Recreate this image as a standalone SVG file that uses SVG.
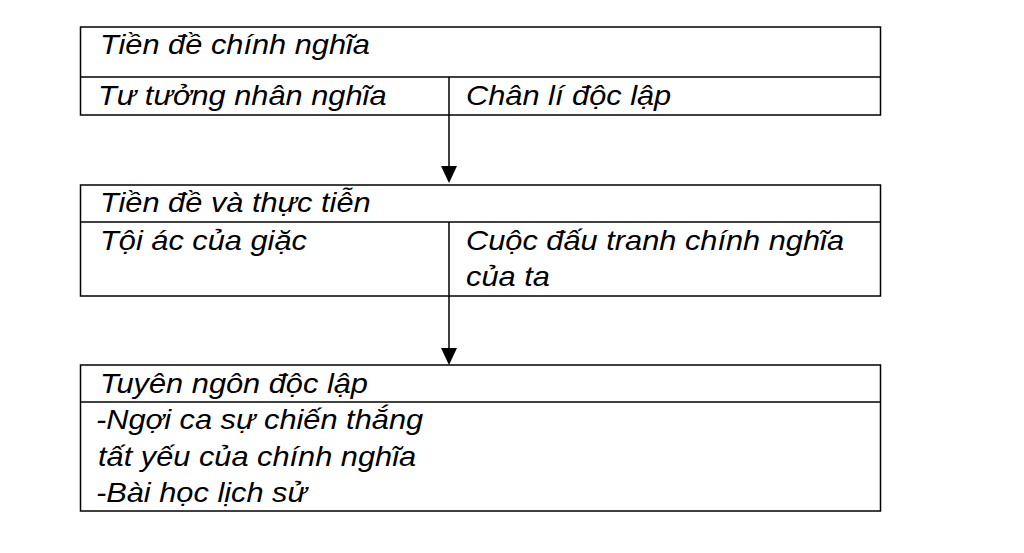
<svg xmlns="http://www.w3.org/2000/svg" width="1024" height="553" viewBox="0 0 1024 553">
<style>
.box{fill:#fff;stroke:#000;stroke-width:1.5}
.ln{stroke:#000;stroke-width:1.5;fill:none}
.head{fill:#000}
.t{font-family:"Liberation Sans",Arial,sans-serif;font-style:italic;font-size:27px;fill:#000}
</style>
<rect width="1024" height="553" fill="#fff"/>
<g id="connectors">
<line class="ln" x1="449" y1="115" x2="449" y2="168"/>
<path class="head" d="M441,166 L457,166 L449,183 Z"/>
<line class="ln" x1="449" y1="296" x2="449" y2="350"/>
<path class="head" d="M441,348 L457,348 L449,365 Z"/>
</g>
<g id="node1">
<rect class="box" x="80.5" y="27" width="800" height="88"/>
<line class="ln" x1="80.5" y1="77" x2="880.5" y2="77"/>
<line class="ln" x1="449" y1="77" x2="449" y2="115"/>
<text class="t" transform="matrix(1.14 0 0 1 100 54)">Tiền đề chính nghĩa</text>
<text class="t" transform="matrix(1.14 0 0 1 98 105)">Tư tưởng nhân nghĩa</text>
<text class="t" transform="matrix(1.14 0 0 1 466 105)">Chân lí độc lập</text>
</g>
<g id="node2">
<rect class="box" x="80.5" y="185" width="800" height="111"/>
<line class="ln" x1="80.5" y1="222" x2="880.5" y2="222"/>
<line class="ln" x1="449" y1="222" x2="449" y2="296"/>
<text class="t" transform="matrix(1.14 0 0 1 100 212)">Tiền đề và thực tiễn</text>
<text class="t" transform="matrix(1.14 0 0 1 100 250)">Tội ác của giặc</text>
<text class="t" transform="matrix(1.14 0 0 1 466 250)">Cuộc đấu tranh chính nghĩa</text>
<text class="t" transform="matrix(1.14 0 0 1 466 286)">của ta</text>
</g>
<g id="node3">
<rect class="box" x="80.5" y="365" width="800" height="146"/>
<line class="ln" x1="80.5" y1="402" x2="880.5" y2="402"/>
<text class="t" transform="matrix(1.14 0 0 1 100 393)">Tuyên ngôn độc lập</text>
<text class="t" transform="matrix(1.14 0 0 1 96 429)">-Ngợi ca sự chiến thắng</text>
<text class="t" transform="matrix(1.14 0 0 1 98 466)">tất yếu của chính nghĩa</text>
<text class="t" transform="matrix(1.14 0 0 1 96 502)">-Bài học lịch sử</text>
</g>
</svg>
